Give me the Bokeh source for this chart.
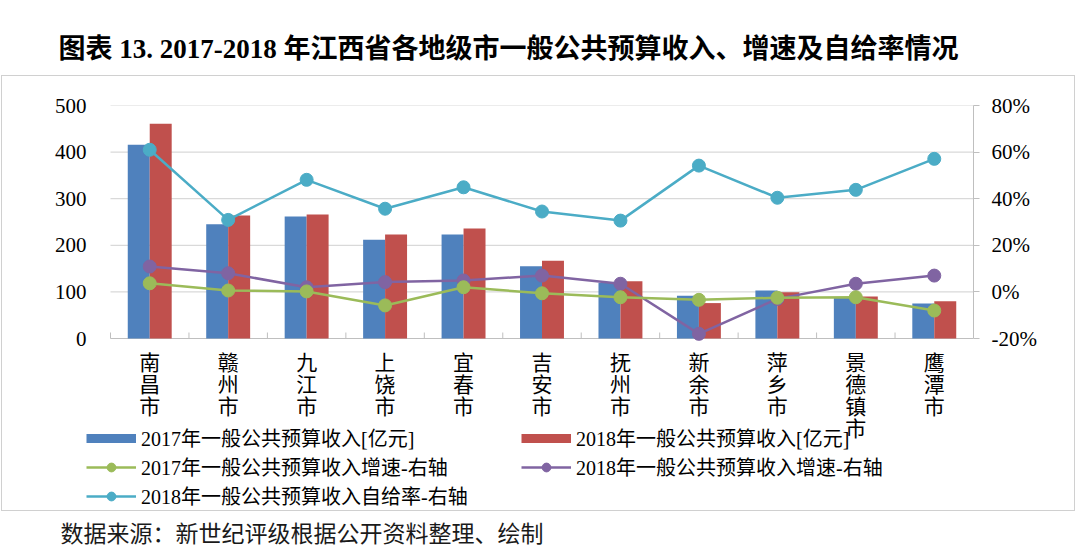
from bokeh.plotting import figure
from bokeh.models import (Range1d, LinearAxis, FixedTicker, PrintfTickFormatter, Legend,
                          LegendItem, Title, ColumnDataSource, InlineStyleSheet)
from bokeh.core.properties import value
from bokeh.transform import dodge
from bokeh.embed import file_html
from bokeh.resources import INLINE

# ---------------- data ----------------
cities = ["南昌市", "赣州市", "九江市", "上饶市", "宜春市", "吉安市",
          "抚州市", "新余市", "萍乡市", "景德镇市", "鹰潭市"]
rev_2017 = [416, 245, 262, 212, 223, 155, 119, 92, 103, 88, 75]
rev_2018 = [461, 264, 266, 223, 236, 167, 123, 76, 99, 90, 80]
growth_2017 = [3.7, 0.6, 0.2, -5.8, 2.0, -0.6, -2.3, -3.4, -2.5, -2.3, -8.0]
growth_2018 = [10.9, 8.0, 2.0, 4.2, 4.9, 7.0, 3.5, -18.0, -3.0, 3.5, 7.0]
self_suff_2018 = [61.0, 30.9, 48.1, 35.7, 44.9, 34.5, 30.6, 54.2, 40.4, 43.8, 57.1]
left_ticks = [0, 100, 200, 300, 400, 500]
right_ticks = [-20, 0, 20, 40, 60, 80]

series_names = ["2017年一般公共预算收入[亿元]", "2018年一般公共预算收入[亿元]",
                "2017年一般公共预算收入增速-右轴", "2018年一般公共预算收入增速-右轴",
                "2018年一般公共预算收入自给率-右轴"]
title_text = "图表 13. 2017-2018 年江西省各地级市一般公共预算收入、增速及自给率情况"
source_text = "数据来源：新世纪评级根据公开资料整理、绘制"

# ---------------- style / layout ----------------
BLUE, RED, GREEN, PURPLE, CYAN = "#4F81BD", "#C0504D", "#9BBB59", "#8064A2", "#4BACC6"
AXIS_GRAY, GRID_GRAY = "#bfbfbf", "#d9d9d9"
FONT = "'Liberation Serif', 'Noto Sans CJK SC', serif"

W, H = 1080, 558
FRAME_L, FRAME_R = 86, 973
FRAME_T, ZERO_Y, FRAME_B = 105, 338, 510
CAT_PX = (FRAME_R - 110) / len(cities)    # pixel width of one category
LEFT_MAX, RIGHT_MIN, RIGHT_MAX = 500, -20, 80

n = len(cities)
idx = list(range(n))
src = ColumnDataSource(dict(idx=idx, city=cities, vlabel=["\n".join(c) for c in cities],
                            r17=rev_2017, r18=rev_2018, g17=growth_2017,
                            g18=growth_2018, ss=self_suff_2018))

left_per_px = LEFT_MAX / (ZERO_Y - FRAME_T)
right_per_px = (RIGHT_MAX - RIGHT_MIN) / (ZERO_Y - FRAME_T)
x_start = -0.5 - (110 - FRAME_L) / CAT_PX

box_css = InlineStyleSheet(css="""
:host { position: relative; }
:host::after { content: ''; position: absolute; left: 1px; top: 75px; width: 1074px;
  height: 436px; border: 1px solid #d0d0d0; box-sizing: border-box;
  pointer-events: none; z-index: 10; }
""")

p = figure(width=W, height=H,
           x_range=Range1d(x_start, n - 0.5),
           y_range=Range1d(-(FRAME_B - ZERO_Y) * left_per_px, LEFT_MAX),
           output_backend="svg", toolbar_location=None, x_axis_location=None,
           min_border_left=FRAME_L, min_border_right=W - FRAME_R,
           min_border_top=FRAME_T, min_border_bottom=H - FRAME_B,
           stylesheets=[box_css])
p.outline_line_color = None
p.background_fill_color = "white"
p.border_fill_color = "white"
p.extra_y_ranges = {"pct": Range1d(RIGHT_MIN - (FRAME_B - ZERO_Y) * right_per_px, RIGHT_MAX)}
p.xgrid.grid_line_color = None
p.ygrid.grid_line_color = None

# title (above, lifted by an empty spacer panel) and source note (below)
p.add_layout(Title(text=" ", text_font_size="1px", standoff=34), "above")
p.title.text = title_text
p.title.align = "left"
p.title.offset = 58 - FRAME_L
p.title.standoff = 10
p.title.text_font = FONT
p.title.text_font_size = "27px"
p.title.text_font_style = "bold"
p.title.text_color = "black"
p.add_layout(Title(text=source_text, align="left", offset=60 - FRAME_L, standoff=19,
                   text_font=FONT, text_font_size="23px", text_font_style="normal",
                   text_color="#1a1a1a"), "below")

# gridlines limited to the category span, baseline and category separators
grid_vals = [t for t in left_ticks if t > 0]
p.segment(x0=[-0.5] * len(grid_vals), x1=[n - 0.5] * len(grid_vals), y0=grid_vals, y1=grid_vals,
          line_color=GRID_GRAY, line_width=1.2)
p.segment(x0=[-0.5], x1=[n - 0.5], y0=[0], y1=[0], line_color=AXIS_GRAY, line_width=1.2)
sep = [i - 0.5 for i in range(n)]
p.segment(x0=sep, x1=sep, y0=[0] * n, y1=[6 * left_per_px] * n, line_color=AXIS_GRAY, line_width=1)

# bars
p.vbar(x=dodge("idx", -0.14), top="r17", width=0.28, source=src, fill_color=BLUE, line_color=None)
p.vbar(x=dodge("idx", 0.14), top="r18", width=0.28, source=src, fill_color=RED, line_color=None)

# lines (right axis)
line_map = {}
for col, color in [("ss", CYAN), ("g18", PURPLE), ("g17", GREEN)]:
    l = p.line(x="idx", y=col, source=src, line_color=color, line_width=2.5, y_range_name="pct")
    s = p.scatter(x="idx", y=col, source=src, size=13, fill_color=color, line_color=color,
                  y_range_name="pct")
    line_map[col] = [l, s]

# category labels (vertical, one character per line)
p.text(x="idx", y=0, text="vlabel", source=src, y_offset=12, text_align="center",
       text_baseline="top", text_font=value(FONT), text_font_size="21px",
       text_line_height=0.93, text_color="black")

# legend proxies for bars (thin swatch; a single NaN point, never visible in the plot)
nan = float("nan")
px17 = p.line(x=[nan], y=[nan], line_color=BLUE, line_width=9)
px18 = p.line(x=[nan], y=[nan], line_color=RED, line_width=9)

# axes
yax = p.yaxis[0]
yax.ticker = FixedTicker(ticks=left_ticks)
yax.axis_line_color = None
yax.major_tick_line_color = None
yax.minor_tick_line_color = None
yax.major_tick_out = 0
yax.major_label_standoff = 0
yax.major_label_text_font = FONT
yax.major_label_text_font_size = "21px"
yax.major_label_text_color = "black"

rax = LinearAxis(y_range_name="pct", ticker=FixedTicker(ticks=right_ticks),
                 formatter=PrintfTickFormatter(format="%d%%"), bounds=(RIGHT_MIN, RIGHT_MAX))
rax.axis_line_color = AXIS_GRAY
rax.major_tick_line_color = AXIS_GRAY
rax.major_tick_out = 6
rax.major_tick_in = 0
rax.minor_tick_line_color = None
rax.major_label_standoff = 12
rax.major_label_text_font = FONT
rax.major_label_text_font_size = "21px"
rax.major_label_text_color = "black"
p.add_layout(rax, "right")

# legends (two columns)
def mk_legend(items, loc):
    return Legend(items=items, location=loc, orientation="vertical",
                  label_text_font=FONT, label_text_font_size="20px", label_text_color="black",
                  glyph_width=50, glyph_height=22, label_height=29, spacing=0,
                  label_standoff=5, padding=0, margin=0, border_line_color=None,
                  background_fill_alpha=0)

lg1 = mk_legend([LegendItem(label=series_names[0], renderers=[px17]),
                 LegendItem(label=series_names[2], renderers=line_map["g17"]),
                 LegendItem(label=series_names[4], renderers=line_map["ss"])], (0, 0))
lg2 = mk_legend([LegendItem(label=series_names[1], renderers=[px18]),
                 LegendItem(label=series_names[3], renderers=line_map["g18"])], (435, 29))
p.add_layout(lg1)
p.add_layout(lg2)

open("out.html", "w").write(file_html(p, INLINE))
